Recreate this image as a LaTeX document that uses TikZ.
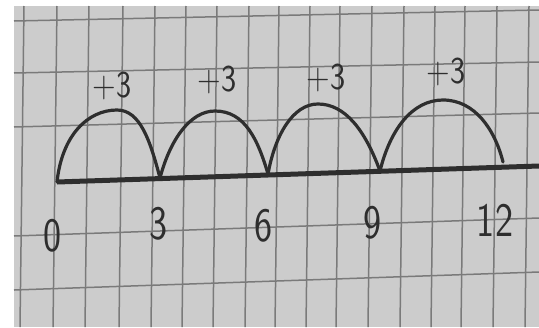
\documentclass[tikz,border=0pt]{standalone}
\usepackage{xcolor}
\usetikzlibrary{positioning}

\definecolor{paper}{gray}{0.80}
\definecolor{gridline}{gray}{0.48}
\definecolor{pencil}{gray}{0.18}

\tikzset{
  hop/.style={draw=pencil,line width=1.6pt,line cap=round},
  hoplabel/.style={font=\sffamily\fontsize{19}{19}\selectfont,text=pencil,inner sep=0pt,xscale=0.85},
  numlabel/.style={font=\sffamily\fontsize{24}{24}\selectfont,text=pencil,inner sep=0pt,xscale=0.8}
}

\begin{document}
\begin{tikzpicture}[x=0.5pt,y=-0.5pt]
  \useasboundingbox (0,0) rectangle (539,327);
  % squared paper
  \fill[white] (0,0) rectangle (539,327);
  \fill[paper] (14,6) rectangle (539,327);
  \foreach \gx in {22,55,87,121,153,184,215,247,277,308,338,370,402,433,463,495,527} {
    \draw[gridline,line width=0.75pt] (\gx+2,6) -- (\gx-2,327);
  }
  \foreach \yl/\yr in {21/10,73/62,127/113,236/218,290/272} {
    \draw[gridline,line width=0.75pt] (14,\yl) -- (539,\yr);
  }
  % number line
  \coordinate (p0) at (57,182);
  \coordinate (p3) at (160,178);
  \coordinate (p6) at (268,174);
  \coordinate (p9) at (380,171);
  \coordinate (e12) at (503,162);
  \coordinate (lineend) at (539,166);
  \draw[pencil,line width=2.5pt] (p0) -- (lineend);
  % hops of three
  \draw[hop] (p0) .. controls (62,135) and (88,110) .. (117,110)
                  .. controls (140,110) and (150,140) .. (p3);
  \draw[hop] (p3) .. controls (170,140) and (190,111) .. (215,111)
                  .. controls (245,111) and (258,140) .. (p6);
  \draw[hop] (p6) .. controls (275,135) and (293,104) .. (318,104)
                  .. controls (345,104) and (365,130) .. (p9);
  \draw[hop] (p9) .. controls (390,130) and (412,100) .. (443,100)
                  .. controls (475,100) and (495,130) .. (e12);
  \node[hoplabel] (j1) at (112,86) {+3};
  \node[hoplabel] (j2) at (217,80) {+3};
  \node[hoplabel] (j3) at (326,78) {+3};
  \node[hoplabel] (j4) at (446,72) {+3};
  % marks
  \node[numlabel] (n0) at (53,236) {0};
  \node[numlabel] (n3) at (159,224) {3};
  \node[numlabel] (n6) at (264,226) {6};
  \node[numlabel] (n9) at (373,223) {9};
  \node[numlabel] (n12) at (495,220) {12};
\end{tikzpicture}
\end{document}
